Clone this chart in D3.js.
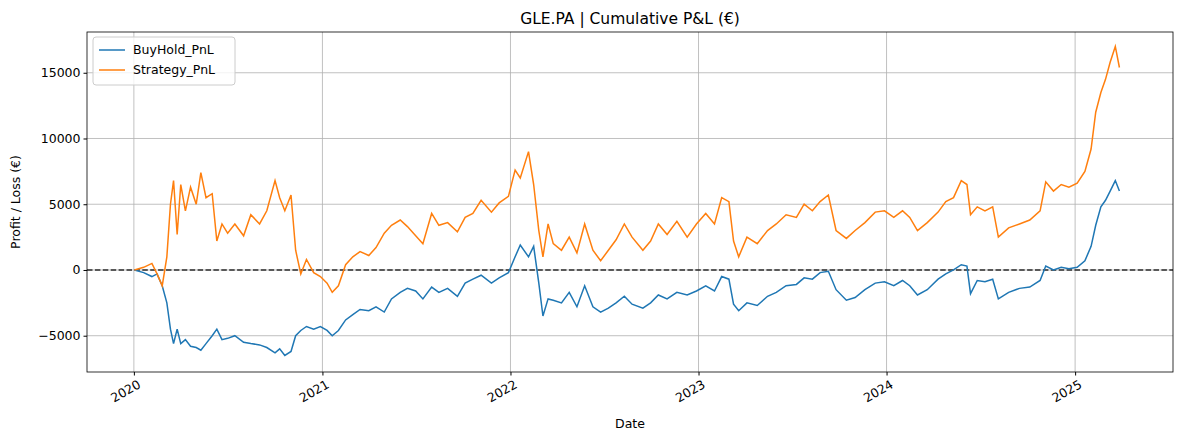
<!DOCTYPE html>
<html><head><meta charset="utf-8">
<script src="https://cdn.jsdelivr.net/npm/d3@7"></script>
<style>body{margin:0;background:#fff}text{font-family:"DejaVu Sans",sans-serif}</style>
</head><body>
<svg id="c" width="1180" height="441"></svg>
<script>
var dates = [
 "2020-01-02","2020-01-20","2020-02-05","2020-02-15","2020-02-25","2020-03-05","2020-03-12","2020-03-18","2020-03-25","2020-04-01",
 "2020-04-10","2020-04-20","2020-05-01","2020-05-10","2020-05-20","2020-06-01","2020-06-10","2020-06-20","2020-07-01","2020-07-15",
 "2020-08-01","2020-08-15","2020-09-01","2020-09-15","2020-10-01","2020-10-10","2020-10-20","2020-11-01","2020-11-10","2020-11-20",
 "2020-12-01","2020-12-15","2020-12-28","2021-01-10","2021-01-20","2021-02-01","2021-02-15","2021-03-01","2021-03-15","2021-04-01",
 "2021-04-15","2021-05-01","2021-05-15","2021-06-01","2021-06-15","2021-07-01","2021-07-15","2021-08-01","2021-08-15","2021-09-01",
 "2021-09-20","2021-10-05","2021-10-20","2021-11-05","2021-11-25","2021-12-10","2021-12-28","2022-01-10","2022-01-20","2022-02-05",
 "2022-02-15","2022-02-25","2022-03-05","2022-03-15","2022-03-25","2022-04-10","2022-04-25","2022-05-10","2022-05-25","2022-06-10",
 "2022-06-25","2022-07-10","2022-07-25","2022-08-10","2022-08-25","2022-09-15","2022-09-30","2022-10-15","2022-11-01","2022-11-20",
 "2022-12-10","2022-12-28","2023-01-15","2023-02-01","2023-02-15","2023-03-01","2023-03-10","2023-03-20","2023-04-05","2023-04-25",
 "2023-05-15","2023-06-01","2023-06-20","2023-07-10","2023-07-25","2023-08-10","2023-08-25","2023-09-10","2023-09-25","2023-10-15",
 "2023-11-01","2023-11-20","2023-12-10","2023-12-28","2024-01-15","2024-02-01","2024-02-15","2024-03-01","2024-03-20","2024-04-10",
 "2024-04-25","2024-05-10","2024-05-25","2024-06-05","2024-06-12","2024-06-25","2024-07-10","2024-07-25","2024-08-05","2024-08-25",
 "2024-09-15","2024-10-05","2024-10-25","2024-11-05","2024-11-20","2024-12-05","2024-12-20","2025-01-05","2025-01-20","2025-02-01",
 "2025-02-10","2025-02-20","2025-03-01","2025-03-10","2025-03-20","2025-03-28"];
var buyHold = [
 0,-200,-500,-300,-1200,-2500,-4500,-5600,-4500,-5600,
 -5300,-5800,-5900,-6100,-5600,-5000,-4500,-5300,-5200,-5000,
 -5500,-5600,-5700,-5900,-6300,-6000,-6500,-6200,-5000,-4600,
 -4300,-4500,-4300,-4600,-5000,-4600,-3800,-3400,-3000,-3100,
 -2800,-3200,-2200,-1700,-1400,-1600,-2200,-1300,-1700,-1400,
 -2000,-1000,-700,-400,-1000,-600,-200,1000,1900,1000,
 1800,-1000,-3500,-2200,-2300,-2500,-1700,-2800,-1200,-2800,
 -3200,-2900,-2500,-2000,-2600,-2900,-2500,-1900,-2200,-1700,
 -1900,-1600,-1200,-1600,-500,-700,-2600,-3100,-2500,-2700,
 -2000,-1700,-1200,-1100,-600,-700,-200,-100,-1500,-2300,
 -2100,-1500,-1000,-900,-1200,-800,-1200,-1900,-1500,-700,
 -300,0,400,300,-1800,-800,-900,-700,-2200,-1700,
 -1400,-1300,-800,300,0,200,100,200,700,1800,
 3400,4800,5300,6000,6800,6000];
var strategy = [
 0,200,500,-300,-1200,1000,5000,6800,2700,6500,
 4500,6300,5000,7400,5500,5800,2200,3500,2800,3500,
 2600,4200,3500,4500,6800,5500,4500,5700,1500,-300,
 800,-200,-500,-1000,-1700,-1200,400,1000,1400,1100,
 1700,2800,3400,3800,3300,2600,2000,4300,3400,3600,
 2900,4000,4300,5300,4400,5100,5600,7600,7000,9000,
 6500,3000,1000,3500,2000,1500,2500,1300,3500,1500,
 700,1500,2300,3500,2500,1500,2200,3500,2700,3700,
 2500,3500,4300,3500,5500,5200,2200,1000,2500,2000,
 3000,3500,4200,4000,5000,4500,5200,5700,3000,2400,
 3000,3600,4400,4500,4000,4500,4000,3000,3600,4400,
 5200,5500,6800,6500,4200,4800,4500,4800,2500,3200,
 3500,3800,4500,6700,6000,6500,6300,6600,7500,9200,
 12000,13500,14500,15800,17000,15400];
var yTicks = [-5000, 0, 5000, 10000, 15000];
var xTickYears = [2020, 2021, 2022, 2023, 2024, 2025];
var seriesNames = ["BuyHold_PnL", "Strategy_PnL"];
var colors = ["#1f77b4", "#ff7f0e"];

var parse = d3.timeParse("%Y-%m-%d");
var L = 87, R = 1173, T = 32, B = 372;
var svg = d3.select("#c");
var x = d3.scaleTime().domain([parse("2019-10-02"), parse("2025-07-10")]).range([L, R]);
var y = d3.scaleLinear().domain([-7760, 18100]).range([B, T]);
var xt = xTickYears.map(function(yr){ return new Date(yr, 0, 1); });

// grid
svg.append("g").selectAll("line").data(xt).enter().append("line")
  .attr("x1", x).attr("x2", x).attr("y1", T).attr("y2", B)
  .attr("stroke", "#b0b0b0").attr("stroke-width", 0.8);
svg.append("g").selectAll("line").data(yTicks).enter().append("line")
  .attr("x1", L).attr("x2", R).attr("y1", y).attr("y2", y)
  .attr("stroke", "#b0b0b0").attr("stroke-width", 0.8);

// zero line
svg.append("line").attr("x1", L).attr("x2", R).attr("y1", y(0)).attr("y2", y(0))
  .attr("stroke", "#000").attr("stroke-width", 1.5).attr("stroke-dasharray", "5.5,2.4").attr("opacity", 0.8);

var line = d3.line().x(function(d){ return x(d[0]); }).y(function(d){ return y(d[1]); });
[buyHold, strategy].forEach(function(s, i){
  svg.append("path").datum(dates.map(function(d, j){ return [parse(d), s[j]]; }))
    .attr("d", line).attr("fill", "none").attr("stroke", colors[i]).attr("stroke-width", 1.5);
});

// axes
var xa = svg.append("g").attr("transform", "translate(0," + B + ")")
  .call(d3.axisBottom(x).tickValues(xt).tickFormat(d3.timeFormat("%Y")).tickSizeOuter(0).tickSize(3.5));
xa.selectAll("text").attr("font-size", 12.5).attr("text-anchor", "end")
  .attr("transform", "rotate(-30)").attr("dx", "-0.1em").attr("dy", "0.8em");
var ya = svg.append("g").attr("transform", "translate(" + L + ",0)")
  .call(d3.axisLeft(y).tickValues(yTicks).tickFormat(d3.format("d")).tickSizeOuter(0).tickSize(3.5));
ya.selectAll("text").attr("font-size", 12.5);
svg.selectAll(".domain").remove();
svg.append("rect").attr("x", L).attr("y", T).attr("width", R - L).attr("height", B - T)
  .attr("fill", "none").attr("stroke", "#000").attr("stroke-width", 0.8);

svg.append("text").attr("x", (L + R) / 2).attr("y", 24).attr("text-anchor", "middle")
  .attr("font-size", 15.5).text("GLE.PA | Cumulative P&L (€)");
svg.append("text").attr("x", (L + R) / 2).attr("y", 428).attr("text-anchor", "middle")
  .attr("font-size", 12.5).text("Date");
svg.append("text").attr("transform", "translate(20," + ((T + B) / 2) + ") rotate(-90)")
  .attr("text-anchor", "middle").attr("font-size", 12.5).text("Profit / Loss (€)");

// legend
var lg = svg.append("g");
lg.append("rect").attr("x", 93).attr("y", 37).attr("width", 142).attr("height", 48).attr("rx", 3)
  .attr("fill", "#fff").attr("fill-opacity", 0.8).attr("stroke", "#ccc");
seriesNames.forEach(function(n, i){
  var yy = 50 + i * 20;
  lg.append("line").attr("x1", 99).attr("x2", 125).attr("y1", yy).attr("y2", yy)
    .attr("stroke", colors[i]).attr("stroke-width", 1.5);
  lg.append("text").attr("x", 133).attr("y", yy + 4).attr("font-size", 12.5).text(n);
});
</script>
</body></html>
